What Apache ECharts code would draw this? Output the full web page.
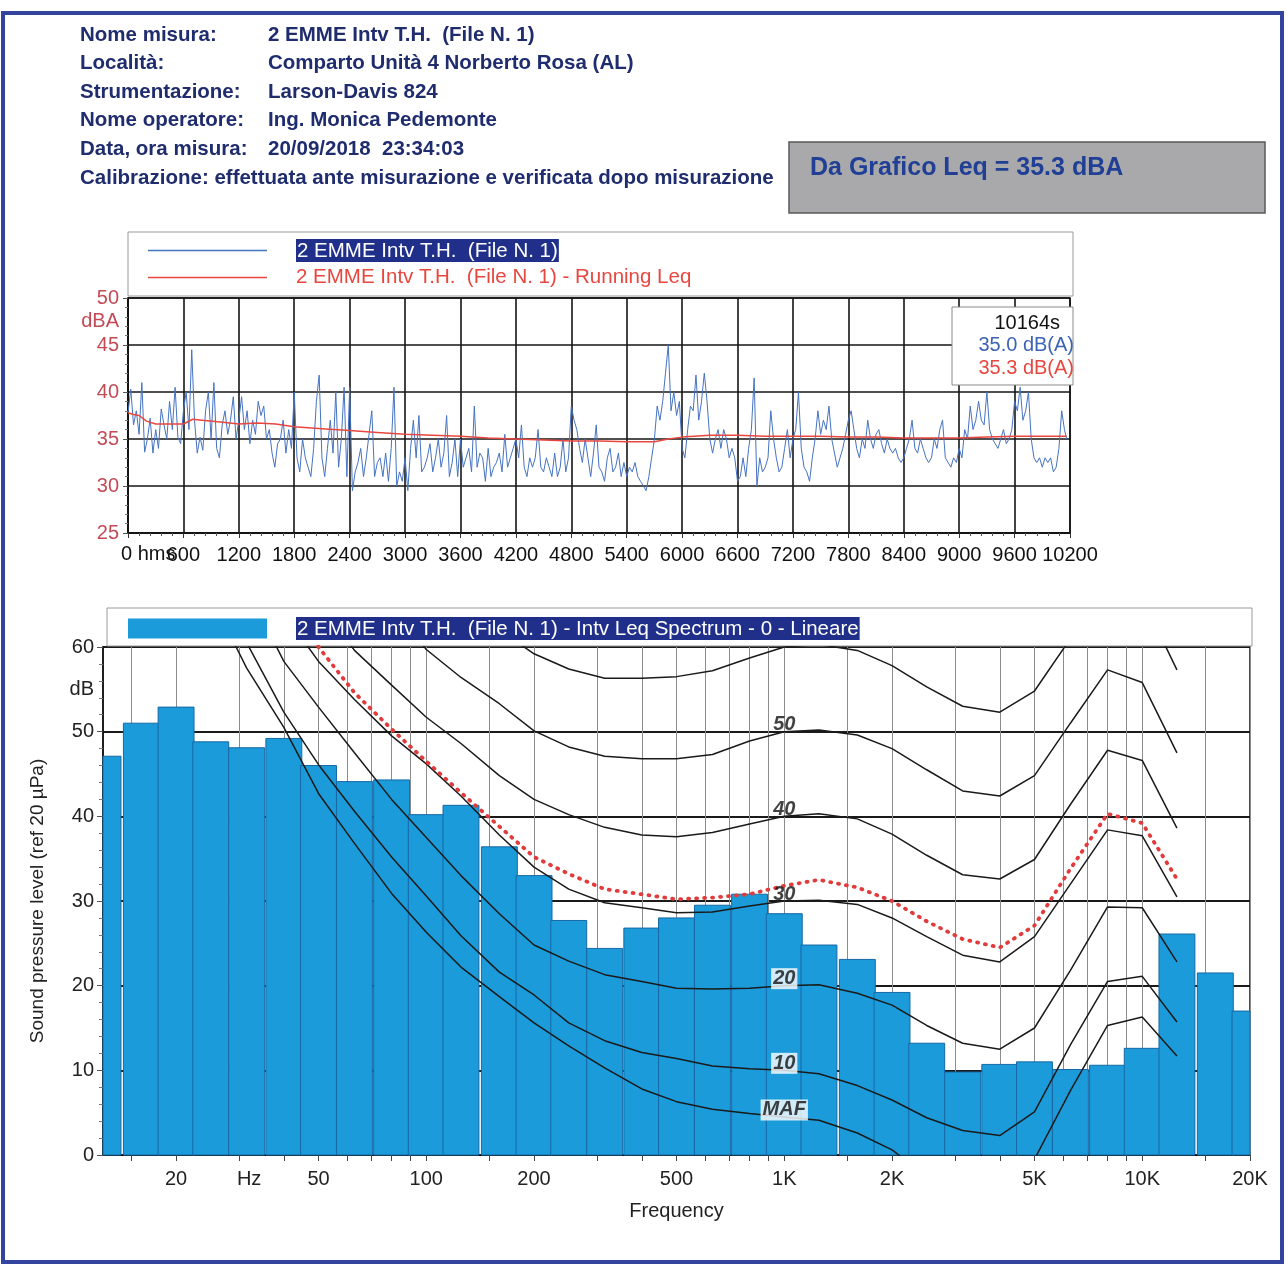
<!DOCTYPE html>
<html><head><meta charset="utf-8">
<script src="https://cdn.jsdelivr.net/npm/echarts@6/dist/echarts.min.js"></script>
<style>html,body{margin:0;padding:0;background:#fff}#c{width:1288px;height:1266px}</style>
</head><body><div id="c"></div>
<script>
const FONT = '"Liberation Sans", Arial, sans-serif';

// ---------- header ----------
const headerLabels = ['Nome misura:', 'Località:', 'Strumentazione:', 'Nome operatore:', 'Data, ora misura:'];
const headerValues = ['2 EMME Intv T.H.  (File N. 1)', 'Comparto Unità 4 Norberto Rosa (AL)', 'Larson-Davis 824', 'Ing. Monica Pedemonte', '20/09/2018  23:34:03'];
const calibrationLine = 'Calibrazione: effettuata ante misurazione e verificata dopo misurazione';
const leqBoxText = 'Da Grafico Leq = 35.3 dBA';

// ---------- time history ----------
const nameTS = '2 EMME Intv T.H.  (File N. 1)';
const nameRun = '2 EMME Intv T.H.  (File N. 1) - Running Leq';
const tsTime = [
0,30,60,90,120,150,180,210,240,270,300,330,360,390,420,450,480,510,540,570,
600,630,660,690,720,750,780,810,840,870,900,930,960,990,1020,1050,1080,1110,1140,1170,
1200,1230,1260,1290,1320,1350,1380,1410,1440,1470,1500,1530,1560,1590,1620,1650,1680,1710,1740,1770,
1800,1830,1860,1890,1920,1950,1980,2010,2040,2070,2100,2130,2160,2190,2220,2250,2280,2310,2340,2370,
2400,2430,2460,2490,2520,2550,2580,2610,2640,2670,2700,2730,2760,2790,2820,2850,2880,2910,2940,2970,
3000,3030,3060,3090,3120,3150,3180,3210,3240,3270,3300,3330,3360,3390,3420,3450,3480,3510,3540,3570,
3600,3630,3660,3690,3720,3750,3780,3810,3840,3870,3900,3930,3960,3990,4020,4050,4080,4110,4140,4170,
4200,4230,4260,4290,4320,4350,4380,4410,4440,4470,4500,4530,4560,4590,4620,4650,4680,4710,4740,4770,
4800,4830,4860,4890,4920,4950,4980,5010,5040,5070,5100,5130,5160,5190,5220,5250,5280,5310,5340,5370,
5400,5430,5460,5490,5520,5550,5580,5610,5640,5670,5700,5730,5760,5790,5820,5850,5880,5910,5940,5970,
6000,6030,6060,6090,6120,6150,6180,6210,6240,6270,6300,6330,6360,6390,6420,6450,6480,6510,6540,6570,
6600,6630,6660,6690,6720,6750,6780,6810,6840,6870,6900,6930,6960,6990,7020,7050,7080,7110,7140,7170,
7200,7230,7260,7290,7320,7350,7380,7410,7440,7470,7500,7530,7560,7590,7620,7650,7680,7710,7740,7770,
7800,7830,7860,7890,7920,7950,7980,8010,8040,8070,8100,8130,8160,8190,8220,8250,8280,8310,8340,8370,
8400,8430,8460,8490,8520,8550,8580,8610,8640,8670,8700,8730,8760,8790,8820,8850,8880,8910,8940,8970,
9000,9030,9060,9090,9120,9150,9180,9210,9240,9270,9300,9330,9360,9390,9420,9450,9480,9510,9540,9570,
9600,9630,9660,9690,9720,9750,9780,9810,9840,9870,9900,9930,9960,9990,10020,10050,10080,10110,10140,
10164];
const tsLevel = [
37.8,40.3,36.5,38.0,35.5,41.0,33.6,35.0,37.2,33.5,36.0,34.0,38.2,36.5,35.0,39.0,36.0,40.5,35.2,34.5,
38.0,40.0,36.0,44.5,37.0,33.5,35.2,33.8,38.0,40.0,35.0,41.0,34.0,33.0,36.5,38.0,35.5,37.0,39.5,35.0,
37.0,39.5,36.0,38.0,34.5,37.0,35.5,39.0,37.5,38.5,35.0,36.0,33.5,32.0,34.5,35.0,37.0,33.5,36.0,34.0,
40.0,33.0,31.5,35.0,33.0,32.0,31.0,34.0,39.0,41.8,33.0,31.0,34.0,37.0,33.5,40.0,32.0,35.0,40.5,31.0,
40.5,29.5,31.5,32.5,34.0,31.0,33.0,35.5,38.0,31.0,32.5,33.0,31.0,33.5,30.5,34.0,40.5,30.0,31.5,30.5,
33.0,29.5,34.0,37.0,33.0,37.5,31.5,32.0,33.0,34.5,31.5,33.0,35.0,32.0,33.5,37.5,31.0,32.5,35.0,31.0,
35.0,32.0,33.0,34.0,31.5,38.5,32.0,33.5,33.0,30.5,34.0,31.0,32.0,32.5,33.5,31.5,35.5,32.0,33.0,34.0,
35.0,33.0,36.5,32.0,31.0,33.0,32.0,33.0,36.0,32.0,31.5,33.0,32.0,31.0,33.5,31.0,32.0,35.0,31.5,33.0,
38.5,37.0,36.0,34.0,32.5,35.0,33.0,31.0,33.5,36.5,32.0,31.5,30.5,33.0,34.0,31.5,32.0,33.5,31.0,32.5,
31.0,32.0,31.5,32.5,31.0,30.5,30.0,29.5,31.0,33.0,35.0,38.5,37.0,39.0,42.0,45.0,38.0,40.0,37.5,39.0,
34.0,33.0,36.0,38.5,38.0,41.8,37.0,39.0,42.0,39.0,35.0,33.5,35.0,36.0,34.0,36.0,35.0,33.0,34.0,33.0,
30.5,31.0,33.0,31.0,34.0,36.0,41.5,30.0,33.0,31.5,32.0,33.0,38.0,35.0,33.0,31.5,32.0,34.0,36.0,33.0,
35.0,36.0,40.0,34.0,32.0,31.5,30.5,33.0,35.0,38.0,35.5,37.0,36.0,38.5,35.0,33.5,32.0,33.0,34.0,35.5,
37.0,38.0,36.0,34.0,33.0,35.0,34.0,37.0,35.0,34.0,35.5,36.0,34.5,33.5,35.0,34.0,33.5,34.0,33.0,32.5,
33.0,34.0,35.0,37.0,34.0,33.5,35.0,34.0,33.0,32.5,33.0,35.0,34.0,36.0,37.0,33.0,32.5,32.0,33.0,32.5,
34.0,33.0,36.0,35.0,38.5,36.0,37.0,39.0,37.0,36.5,40.0,36.0,35.0,34.5,34.0,35.0,36.0,34.5,35.0,36.0,
39.0,38.0,40.5,37.0,38.0,40.0,35.0,33.0,32.5,33.0,32.0,33.0,32.5,33.0,31.5,32.0,34.0,38.0,36.0,
35.0];
const runTime = [0,60,120,200,300,450,600,700,800,1000,1200,1400,1600,1800,2100,2400,2700,3000,3300,3600,3900,4200,4500,4800,5100,5400,5700,5850,6000,6300,6600,6900,7200,7500,7800,8100,8400,8700,9000,9300,9600,9900,10164];
const runLevel = [37.8,37.6,37.5,36.9,36.6,36.6,36.6,37.1,37.0,36.8,36.6,36.7,36.6,36.3,36.1,35.9,35.7,35.5,35.4,35.3,35.1,35.0,34.9,34.8,34.8,34.7,34.7,35.0,35.2,35.4,35.4,35.3,35.3,35.3,35.2,35.2,35.1,35.1,35.1,35.2,35.3,35.3,35.3];
const tsYLabels = [25, 30, 35, 40, 45, 47.5, 50];
const tsXZeroLabel = '0 hms';
const cursorInfo = ['10164s', '35.0 dB(A)', '35.3 dB(A)'];

// ---------- spectrum ----------
const nameSpec = '2 EMME Intv T.H.  (File N. 1) - Intv Leq Spectrum - 0 - Lineare';
const bandFreq = [12.5,16,20,25,31.5,40,50,63,80,100,125,160,200,250,315,400,500,630,800,1000,1250,1600,2000,2500,3150,4000,5000,6300,8000,10000,12500,16000,20000];
const bandLevel = [47.1,51.0,52.9,48.8,48.1,49.2,46.0,44.1,44.3,40.2,41.3,36.4,33.0,27.7,24.4,26.8,28.0,29.5,30.8,28.5,24.8,23.1,19.2,13.2,9.8,10.7,11.0,10.1,10.6,12.6,26.1,21.5,17.0];
const contourFreq = [20,25,31.5,40,50,63,80,100,125,160,200,250,315,400,500,630,800,1000,1250,1600,2000,2500,3150,4000,5000,6300,8000,10000,12500];
const contourMAF = [75,66,57.5,50.5,42.7,36.8,30.9,26.3,22.2,18.7,15.6,12.9,10.3,7.8,6.3,5.4,4.9,4.5,4.1,2.6,0.6,-2.5,-4.5,-5.0,-0.5,7.6,15.3,16.3,11.7];
const contour10 = [79,70,60.5,52.3,46.1,40.6,35.2,30.6,25.9,21.6,18.9,15.6,13.5,12.1,11.4,10.5,10.2,10.0,9.6,8.2,6.5,4.4,2.9,2.3,5.1,13.0,20.5,21.1,15.7];
const contour20 = [84,75,67,58.3,52.9,47.5,42.0,37.5,33.0,28.5,24.8,22.9,21.3,20.5,19.7,19.6,19.7,20.0,20.1,19.1,17.7,15.3,13.2,12.5,15.0,21.8,29.3,29.2,22.8];
const contour30 = [90,81,72,64,58.3,53.8,49.5,46.2,42.4,37.8,34.0,31.4,29.8,29.2,28.6,28.7,29.4,30.0,30.1,29.6,28.0,25.8,23.6,22.8,25.8,32.0,38.4,37.7,30.5];
const contour40 = [98,90,82,73,65.5,59.6,55.5,51.7,48.6,44.8,42.0,40.2,38.7,37.8,37.6,38.1,39.1,40.0,40.3,39.7,37.9,35.4,33.1,32.6,34.9,41.4,47.8,46.6,38.6];
const contour50 = [104,96,89,82,76,70.5,65,59.7,56.4,53.3,50.1,48.2,47.1,46.8,46.8,47.3,48.9,50.0,50.2,49.6,48.0,45.5,43.0,42.4,44.8,51.0,57.3,55.8,47.5];
const contour60 = [110,103,96,90,85,80,75,70,65.5,62,59.2,57.4,56.3,56.3,56.5,57.2,58.7,60.0,60.3,59.6,57.8,55.3,53.0,52.3,54.8,61.0,67.3,65.8,57.3];
const contourMeasured = [96,86,77,68,60,54.6,50.3,46.5,42.8,38.8,35.2,33.2,31.4,30.8,30.2,30.4,30.8,31.8,32.5,31.6,30.0,27.6,25.5,24.5,27.1,33.8,40.3,39.2,32.6];
const contourLabels = ['MAF', '10', '20', '30', '40', '50', ''];
const specTickFreq = [15,20,30,40,50,60,70,80,90,100,150,200,300,400,500,600,700,800,900,1000,1500,2000,3000,4000,5000,6000,7000,8000,9000,10000,15000,20000];
const specLabelFreq = [20,32,50,100,200,500,1000,2000,5000,10000,20000];
const specYLabels = [0,10,20,30,40,50,55,60];

// ---------- colours ----------
const C_NAVY = '#1f2c6e', C_HL = '#1f2f8a', C_BLUE = '#4673c2', C_RED = '#e8473f';
const C_BAR = '#1b9bd9', C_BAR_EDGE = '#1668a5', C_YRED = '#c44a55';

const lg = Math.log10;
const contourSets = [contourMAF, contour10, contour20, contour30, contour40, contour50, contour60];
const i1k = contourFreq.indexOf(1000);
const LINE_ICON = 'path://M0,0H120V1.4H0Z';

const series = [];
series.push({
  name: nameTS, type: 'line', xAxisIndex: 0, yAxisIndex: 0, symbol: 'none', z: 3,
  color: C_BLUE, lineStyle: { color: C_BLUE, width: 1 },
  data: tsTime.map((t, i) => [t, tsLevel[i]])
});
series.push({
  name: nameRun, type: 'line', xAxisIndex: 0, yAxisIndex: 0, symbol: 'none', z: 4,
  color: C_RED, lineStyle: { color: C_RED, width: 1.5 },
  data: runTime.map((t, i) => [t, runLevel[i]])
});
const halfBand = Math.log10(2) / 6;
series.push({
  name: nameSpec, type: 'custom', xAxisIndex: 1, yAxisIndex: 1, z: 2,
  itemStyle: { color: C_BAR },
  encode: { x: 0, y: 1 },
  data: bandFreq.map((f, i) => [lg(f), bandLevel[i]]),
  renderItem: function (params, api) {
    const x = api.value(0), v = api.value(1);
    const p0 = api.coord([x - halfBand, v]);
    const p1 = api.coord([x + halfBand, 0]);
    const cs = params.coordSys;
    const r = echarts.graphic.clipRectByRect(
      { x: p0[0], y: p0[1], width: p1[0] - p0[0], height: p1[1] - p0[1] },
      { x: cs.x, y: cs.y, width: cs.width, height: cs.height });
    return r && { type: 'rect', shape: r, style: { fill: C_BAR, stroke: C_BAR_EDGE, lineWidth: 1 } };
  }
});
contourSets.forEach((arr, k) => {
  series.push({
    name: 'contour-' + k, type: 'line', xAxisIndex: 1, yAxisIndex: 1, symbol: 'none', z: 5,
    silent: true, clip: true,
    lineStyle: { color: '#1a1a1a', width: 1.5 },
    data: contourFreq.map((f, i) => [lg(f), arr[i]])
  });
});
series.push({
  name: 'measured-contour', type: 'line', xAxisIndex: 1, yAxisIndex: 1, symbol: 'none', z: 6,
  silent: true, clip: true,
  lineStyle: { color: '#e23b3b', width: 3.8, type: [1, 7], cap: 'round' },
  data: contourFreq.map((f, i) => [lg(f), contourMeasured[i]])
});
series.push({
  name: 'contour-labels', type: 'scatter', xAxisIndex: 1, yAxisIndex: 1, symbolSize: 0, z: 7, silent: true,
  label: { show: true, position: 'inside', offset: [0, -7], fontSize: 20, fontWeight: 'bold', fontStyle: 'italic',
           color: '#111', fontFamily: FONT, padding: [1, 2, 0, 2] },
  data: contourLabels.map((t, k) => t ? {
    value: [lg(1000), contourSets[k][i1k]],
    label: { formatter: t, backgroundColor: k <= 2 ? '#fff' : 'transparent' }
  } : null).filter(Boolean)
});

// ---------- graphics ----------
const graphics = [];
const txt = (x, y, text, font, fill, align) => ({
  type: 'text', x: x, y: y, z: 50, silent: true,
  style: { text: text, font: font, fill: fill, align: align || 'left', textAlign: align || 'left',
           verticalAlign: 'middle', textVerticalAlign: 'middle' }
});
graphics.push({ type: 'rect', z: 0, silent: true, shape: { x: 3, y: 13, width: 1279, height: 1249 },
  style: { fill: 'none', stroke: '#33449e', lineWidth: 4 } });
const HFONT = 'bold 20.5px ' + FONT;
headerLabels.forEach((t, i) => {
  graphics.push(txt(80, 35 + 28.6 * i, t, HFONT, C_NAVY));
  graphics.push(txt(268, 35 + 28.6 * i, headerValues[i], HFONT, C_NAVY));
});
graphics.push(txt(80, 178, calibrationLine, HFONT, C_NAVY));
graphics.push({ type: 'rect', z: 1, silent: true, shape: { x: 789, y: 142, width: 476, height: 71 },
  style: { fill: '#a9a9ab', stroke: '#5a5a5a', lineWidth: 1.5 } });
graphics.push(txt(810, 168, leqBoxText, 'bold 25px ' + FONT, '#203f95'));
// legend frames
graphics.push({ type: 'rect', z: 1, silent: true, shape: { x: 128, y: 232, width: 945, height: 64 },
  style: { fill: '#fff', stroke: '#9a9a9a', lineWidth: 1 } });
graphics.push({ type: 'rect', z: 1, silent: true, shape: { x: 107, y: 608, width: 1145, height: 38 },
  style: { fill: '#fff', stroke: '#9a9a9a', lineWidth: 1 } });
// cursor readout box
graphics.push({ type: 'rect', z: 60, silent: true, shape: { x: 952, y: 307, width: 121, height: 78 },
  style: { fill: '#fff', stroke: '#8a8a8a', lineWidth: 1 } });
graphics.push(Object.assign(txt(1060, 323, cursorInfo[0], '20px ' + FONT, '#111', 'right'), { z: 61 }));
graphics.push(Object.assign(txt(1074, 345, cursorInfo[1], '20px ' + FONT, '#3d63b5', 'right'), { z: 61 }));
graphics.push(Object.assign(txt(1074, 368, cursorInfo[2], '20px ' + FONT, C_RED, 'right'), { z: 61 }));
// origin label of time axis (drawn left-aligned, overlapping "600" as in the print)
graphics.push(Object.assign(txt(121, 554, tsXZeroLabel, '20px ' + FONT, '#111', 'left'), { z: 20 }));

const legendRich = {
  g: { width: 24 },
  h: { color: '#fff', backgroundColor: C_HL, padding: [2, 1, 0, 1], fontSize: 20.5, fontFamily: FONT },
  r: { color: C_RED, fontSize: 20.5, fontFamily: FONT }
};

const option = {
  animation: false,
  backgroundColor: '#fff',
  textStyle: { fontFamily: FONT },
  graphic: graphics,
  legend: [
    { orient: 'vertical', left: 143, top: 234, itemWidth: 119, itemHeight: 14, itemGap: 5, selectedMode: false, z: 5,
      symbolKeepAspect: true,
      data: [{ name: nameTS, icon: LINE_ICON }, { name: nameRun, icon: LINE_ICON }],
      formatter: n => n === nameTS ? '{g|}{h|' + n + '}' : '{g|}{r|' + n + '}',
      textStyle: { fontSize: 20.5, fontFamily: FONT, rich: legendRich } },
    { orient: 'horizontal', left: 123, top: 612, itemWidth: 139, itemHeight: 20, selectedMode: false, z: 5,
      data: [{ name: nameSpec, icon: 'rect', itemStyle: { color: C_BAR, borderWidth: 0 } }],
      formatter: n => '{g|}{h|' + n + '}',
      textStyle: { fontSize: 20.5, fontFamily: FONT, rich: legendRich } }
  ],
  grid: [
    { left: 128, top: 298, width: 942, height: 235, show: true, borderColor: '#111', borderWidth: 1.5, backgroundColor: '#fff' },
    { left: 103, top: 647, width: 1147, height: 508, show: true, borderColor: '#111', borderWidth: 1.5, backgroundColor: '#fff' }
  ],
  xAxis: [
    { type: 'value', gridIndex: 0, min: 0, max: 10200, interval: 600,
      axisLine: { lineStyle: { color: '#111', width: 1.5 } },
      axisTick: { show: true, length: 5, lineStyle: { color: '#333' } },
      minorTick: { show: true, splitNumber: 5, length: 3, lineStyle: { color: '#555' } },
      splitLine: { show: true, lineStyle: { color: '#151515', width: 1.6 } },
      axisLabel: { fontSize: 20, color: '#111', margin: 12, showMinLabel: false, showMaxLabel: true,
                   formatter: v => String(v) } },
    { type: 'value', gridIndex: 1, min: lg(12.5), max: lg(20000),
      axisLine: { lineStyle: { color: '#111', width: 1.5 } },
      axisTick: { show: true, length: 6, lineStyle: { color: '#444' }, customValues: specTickFreq.map(lg) },
      splitLine: { show: true, lineStyle: { color: '#8c8c8c', width: 1 } },
      axisLabel: { fontSize: 20, color: '#222', margin: 14, customValues: specLabelFreq.map(lg),
        formatter: v => { const f = Math.round(Math.pow(10, v));
          if (f === 32) return 'Hz';
          return f >= 1000 ? (f / 1000) + 'K' : String(f); } },
      name: 'Frequency', nameLocation: 'middle', nameGap: 46,
      nameTextStyle: { fontSize: 20, color: '#222', fontFamily: FONT } }
  ],
  yAxis: [
    { type: 'value', gridIndex: 0, min: 25, max: 50, interval: 5,
      axisLine: { show: true, lineStyle: { color: '#111', width: 1.5 } },
      axisTick: { show: true, length: 5, lineStyle: { color: '#555' } },
      minorTick: { show: true, splitNumber: 5, length: 3, lineStyle: { color: '#777' } },
      splitLine: { show: true, lineStyle: { color: '#151515', width: 1.6 } },
      axisLabel: { fontSize: 20, color: C_YRED, margin: 9, customValues: tsYLabels,
                   formatter: v => v === 47.5 ? 'dBA' : String(v) } },
    { type: 'value', gridIndex: 1, min: 0, max: 60, interval: 10,
      axisLine: { show: true, lineStyle: { color: '#111', width: 1.5 } },
      axisTick: { show: true, length: 6, lineStyle: { color: '#555' } },
      minorTick: { show: true, splitNumber: 5, length: 4, lineStyle: { color: '#777' } },
      splitLine: { show: true, lineStyle: { color: '#1a1a1a', width: 1.8 } },
      axisLabel: { fontSize: 20, color: '#222', margin: 9, customValues: specYLabels,
                   formatter: v => v === 55 ? 'dB' : String(v) },
      name: 'Sound pressure level (ref 20 µPa)', nameLocation: 'middle', nameGap: 56,
      nameTextStyle: { fontSize: 19, color: '#222', fontFamily: FONT } }
  ],
  series: series
};

const chart = echarts.init(document.getElementById('c'), null, { renderer: 'canvas' });
chart.setOption(option);
</script>
</body></html>
